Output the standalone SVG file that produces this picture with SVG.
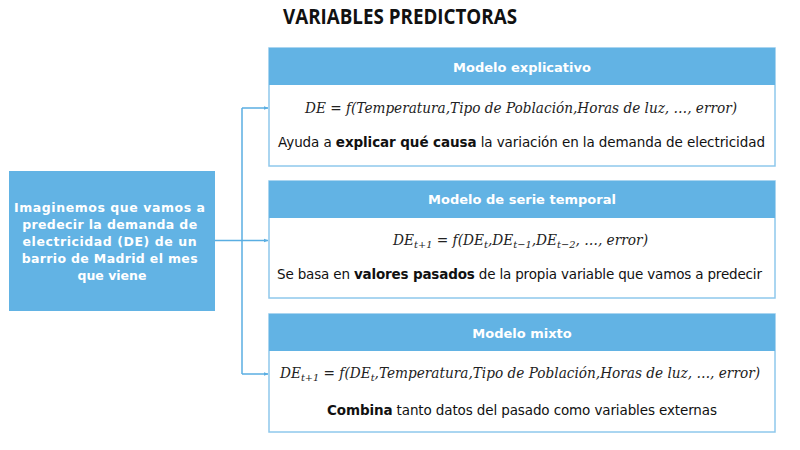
<svg xmlns="http://www.w3.org/2000/svg" width="800" height="450" viewBox="0 0 800 450">
  <defs>
    <style>
      .title { font-family: "Open Sans", "Liberation Sans", sans-serif; font-weight: 700; font-size: 21px; fill: #111; }
      .card { fill: #ffffff; stroke: #8ec8ec; stroke-width: 1.5; }
      .head { fill: #62b3e4; }
      .headtxt { font-family: "DejaVu Sans", Verdana, sans-serif; font-weight: 700; font-size: 13px; fill: #ffffff; }
      .body { font-family: "DejaVu Sans", Verdana, sans-serif; font-size: 13.5px; fill: #111; }
      .body .b { font-weight: 700; }
      .eq { font-family: "DejaVu Serif", "Liberation Serif", serif; font-style: italic; font-size: 14px; fill: #222; }
      .eq .up { font-style: normal; }
      .eq .sub { font-size: 10px; }
      .intro { fill: #62b3e4; }
      .introtxt { font-family: "DejaVu Sans", Verdana, sans-serif; font-weight: 700; font-size: 12.5px; fill: #ffffff; }
      .link { fill: none; stroke: #5aaee2; stroke-width: 1.5; }
    </style>
    <marker id="arrow" viewBox="0 0 10 10" refX="9" refY="5" markerWidth="5" markerHeight="5" orient="auto" markerUnits="userSpaceOnUse">
      <path d="M0,1 L10,5 L0,9 Z" fill="#5aaee2"/>
    </marker>
  </defs>

  <rect width="800" height="450" fill="#ffffff"/>

  <text class="title" x="400" y="24" text-anchor="middle" textLength="234" lengthAdjust="spacingAndGlyphs">VARIABLES PREDICTORAS</text>

  <!-- connectors -->
  <g id="connectors">
    <path class="link" d="M242,108 V374"/>
    <path class="link" d="M242,108 H268" marker-end="url(#arrow)"/>
    <path class="link" d="M215,240.5 H268" marker-end="url(#arrow)"/>
    <path class="link" d="M242,374 H268" marker-end="url(#arrow)"/>
  </g>

  <!-- starting premise -->
  <g id="intro">
    <rect class="intro" x="9" y="171" width="206" height="140"/>
    <text class="introtxt" text-anchor="middle">
      <tspan x="112" y="212" textLength="191" lengthAdjust="spacing">Imaginemos que vamos a</tspan>
      <tspan x="112" y="229" textLength="175" lengthAdjust="spacing">predecir la demanda de</tspan>
      <tspan x="112" y="246" textLength="174" lengthAdjust="spacing">electricidad (DE) de un</tspan>
      <tspan x="112" y="263" textLength="176" lengthAdjust="spacing">barrio de Madrid el mes</tspan>
      <tspan x="112" y="280">que viene</tspan>
    </text>
  </g>

  <!-- explanatory model -->
  <g id="modelo-explicativo">
    <rect class="card" x="269" y="48" width="506" height="118"/>
    <rect class="head" x="269" y="48" width="506" height="37"/>
    <text class="headtxt" x="522" y="71.5" text-anchor="middle">Modelo explicativo</text>
    <text class="eq" x="305" y="113" textLength="432" lengthAdjust="spacingAndGlyphs">DE <tspan class="up">=</tspan> f(Temperatura,Tipo de Población,Horas de luz, …, error)</text>
    <text class="body" x="521.5" y="147" text-anchor="middle" textLength="487" lengthAdjust="spacing">Ayuda a <tspan class="b">explicar qué causa</tspan> la variación en la demanda de electricidad</text>
  </g>

  <!-- time series model -->
  <g id="modelo-serie-temporal">
    <rect class="card" x="269" y="181" width="506" height="117"/>
    <rect class="head" x="269" y="181" width="506" height="37"/>
    <text class="headtxt" x="522" y="203.5" text-anchor="middle">Modelo de serie temporal</text>
    <text class="eq" x="393" y="245" textLength="255" lengthAdjust="spacingAndGlyphs">DE<tspan class="sub" dy="3">t+1</tspan><tspan dy="-3"> </tspan><tspan class="up">=</tspan> f(DE<tspan class="sub" dy="3">t</tspan><tspan dy="-3">,DE</tspan><tspan class="sub" dy="3">t−1</tspan><tspan dy="-3">,DE</tspan><tspan class="sub" dy="3">t−2</tspan><tspan dy="-3">, …, error)</tspan></text>
    <text class="body" x="519.5" y="279" text-anchor="middle" textLength="485" lengthAdjust="spacing">Se basa en <tspan class="b">valores pasados</tspan> de la propia variable que vamos a predecir</text>
  </g>

  <!-- mixed model -->
  <g id="modelo-mixto">
    <rect class="card" x="269" y="314" width="506" height="118"/>
    <rect class="head" x="269" y="314" width="506" height="37"/>
    <text class="headtxt" x="522" y="337.5" text-anchor="middle">Modelo mixto</text>
    <text class="eq" x="280" y="378" textLength="480" lengthAdjust="spacingAndGlyphs">DE<tspan class="sub" dy="3">t+1</tspan><tspan dy="-3"> </tspan><tspan class="up">=</tspan> f(DE<tspan class="sub" dy="3">t</tspan><tspan dy="-3">,Temperatura,Tipo de Población,Horas de luz, …, error)</tspan></text>
    <text class="body" x="522" y="415" text-anchor="middle" textLength="390" lengthAdjust="spacing"><tspan class="b">Combina</tspan> tanto datos del pasado como variables externas</text>
  </g>
</svg>
